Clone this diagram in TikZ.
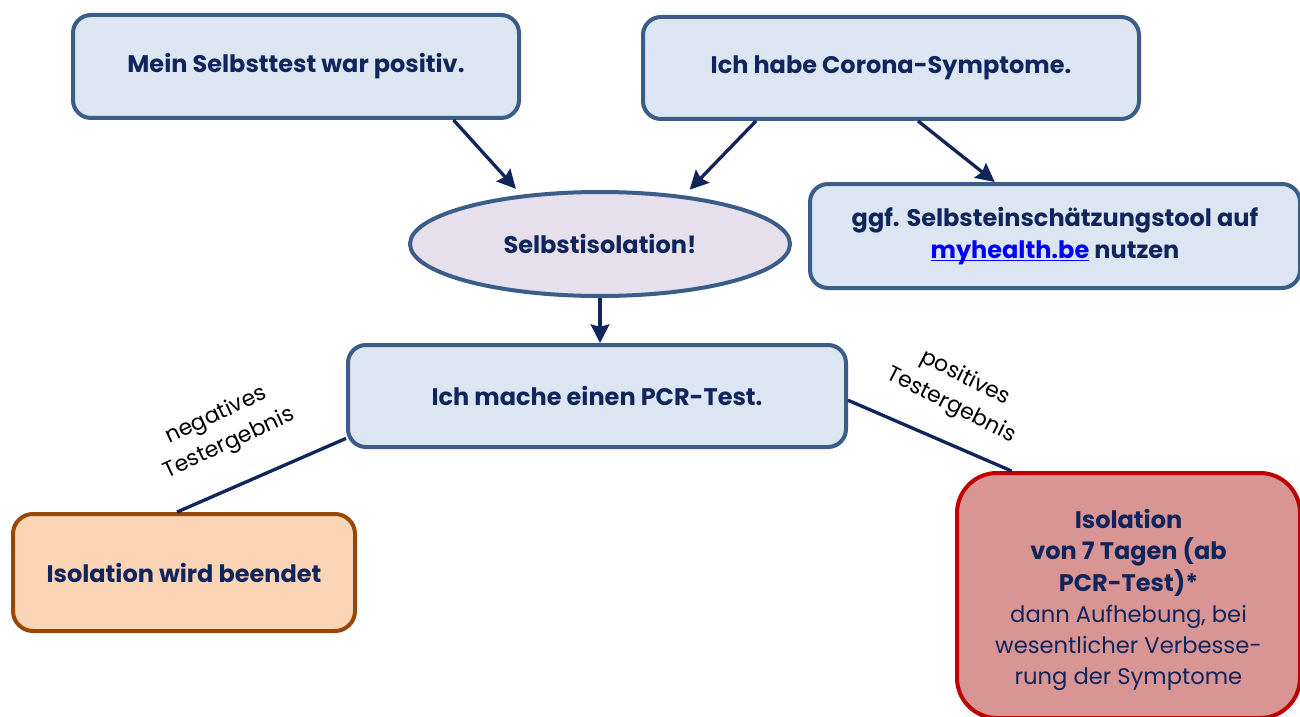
\documentclass[tikz,border=0pt]{standalone}
\usepackage{fontspec}
\setmainfont{Poppins}
\usetikzlibrary{calc,shapes.geometric,arrows.meta}
\definecolor{navy}{RGB}{16,37,92}
\definecolor{boxline}{RGB}{58,93,138}
\definecolor{boxfill}{RGB}{220,230,242}
\definecolor{isofill}{RGB}{230,224,236}
\definecolor{endfill}{RGB}{251,213,181}
\definecolor{endline}{RGB}{152,72,6}
\definecolor{redfill}{RGB}{217,149,148}
\definecolor{redline}{RGB}{192,0,0}
\definecolor{linkblue}{RGB}{0,0,255}
\newcommand{\linkline}[1]{\setbox0\hbox{#1}\textcolor{linkblue}{\rlap{\rule[-2.2pt]{\wd0}{1.3pt}}#1}}
\tikzset{
	bluebox/.style={draw=boxline, fill=boxfill, line width=3pt, rounded corners=13.5pt, text=navy, align=center, font=\bfseries\fontsize{18}{24}\selectfont},
	arr/.style={draw=navy, line width=2.5pt, -{Stealth[length=14pt,width=14pt,inset=2pt]}},
	link/.style={draw=navy, line width=2.5pt},
	labeltext/.style={text=black, align=center, font=\fontsize{16.5}{23}\selectfont}
}

\begin{document}
\begin{tikzpicture}[x=0.75pt,y=-0.75pt]
		%%%%% START %%%%%
		\useasboundingbox (0,0) rectangle (1300,717);
		
		\node[bluebox, minimum width=334.5pt, minimum height=77.25pt] (selbsttest) at (296,66.5) {Mein Selbsttest war positiv.};
		\node[bluebox, minimum width=372pt, minimum height=76.5pt] (symptome) at (891,68) {Ich habe Corona-Symptome.};
		
		\node[ellipse, draw=boxline, fill=isofill, line width=3pt, text=navy, font=\bfseries\fontsize{18}{24}\selectfont, minimum width=285pt, minimum height=78pt] (iso) at (600,244) {Selbstisolation!};
		
		\node[bluebox, minimum width=367.5pt, minimum height=78pt] (tool) at (1055,236) {ggf. Selbsteinschätzungstool auf\\\linkline{myhealth.be} nutzen};
		
		\node[bluebox, minimum width=373.5pt, minimum height=76.5pt] (pcr) at (597,396) {Ich mache einen PCR-Test.};
		
		\node[bluebox, draw=endline, fill=endfill, rounded corners=15pt, minimum width=256.5pt, minimum height=87.75pt] (ende) at (184,572.5) {Isolation wird beendet};
		
		\node[bluebox, draw=redline, fill=redfill, rounded corners=30pt, minimum width=257.25pt, minimum height=183.75pt] (isolation) at (1128.5,595.5) {};
		\node[text=navy, align=center, font=\fontsize{17}{23.3}\selectfont] (isotext) at (1128.5,600) {{\bfseries\fontsize{18}{23.3}\selectfont Isolation}\\{\bfseries\fontsize{18}{23.3}\selectfont von 7 Tagen (ab}\\{\bfseries\fontsize{18}{23.3}\selectfont PCR-Test)*}\\dann Aufhebung, bei\\wesentlicher Verbesse-\\rung der Symptome};
		
		% arrows
		\draw[arr, shorten >=6pt] ($(selbsttest.south west)!0.85!(selbsttest.south east)$) -- (iso.148);
		\draw[arr, shorten >=6pt] ($(symptome.south west)!0.23!(symptome.south east)$) -- (iso.30.5);
		\draw[arr] ($(symptome.south west)!0.554!(symptome.south east)$) -- ($(tool.north west)!0.378!(tool.north east)$);
		\draw[arr] (iso.south) -- (iso.south |- pcr.north);
		
		% results
		\draw[link] ($(pcr.north west)!0.9!(pcr.south west)$) -- ($(ende.north west)!0.48!(ende.north east)$);
		\draw[link] ($(pcr.north east)!0.54!(pcr.south east)$) -- ($(isolation.north west)!0.163!(isolation.north east)$);
		
		\node[labeltext, rotate=25] (neg) at (223,430) {negatives\\Testergebnis};
		\node[labeltext, rotate=-27] (pos) at (958,392) {positives\\Testergebnis};
		
		%%%%% END %%%%%
	\end{tikzpicture}
\end{document}
